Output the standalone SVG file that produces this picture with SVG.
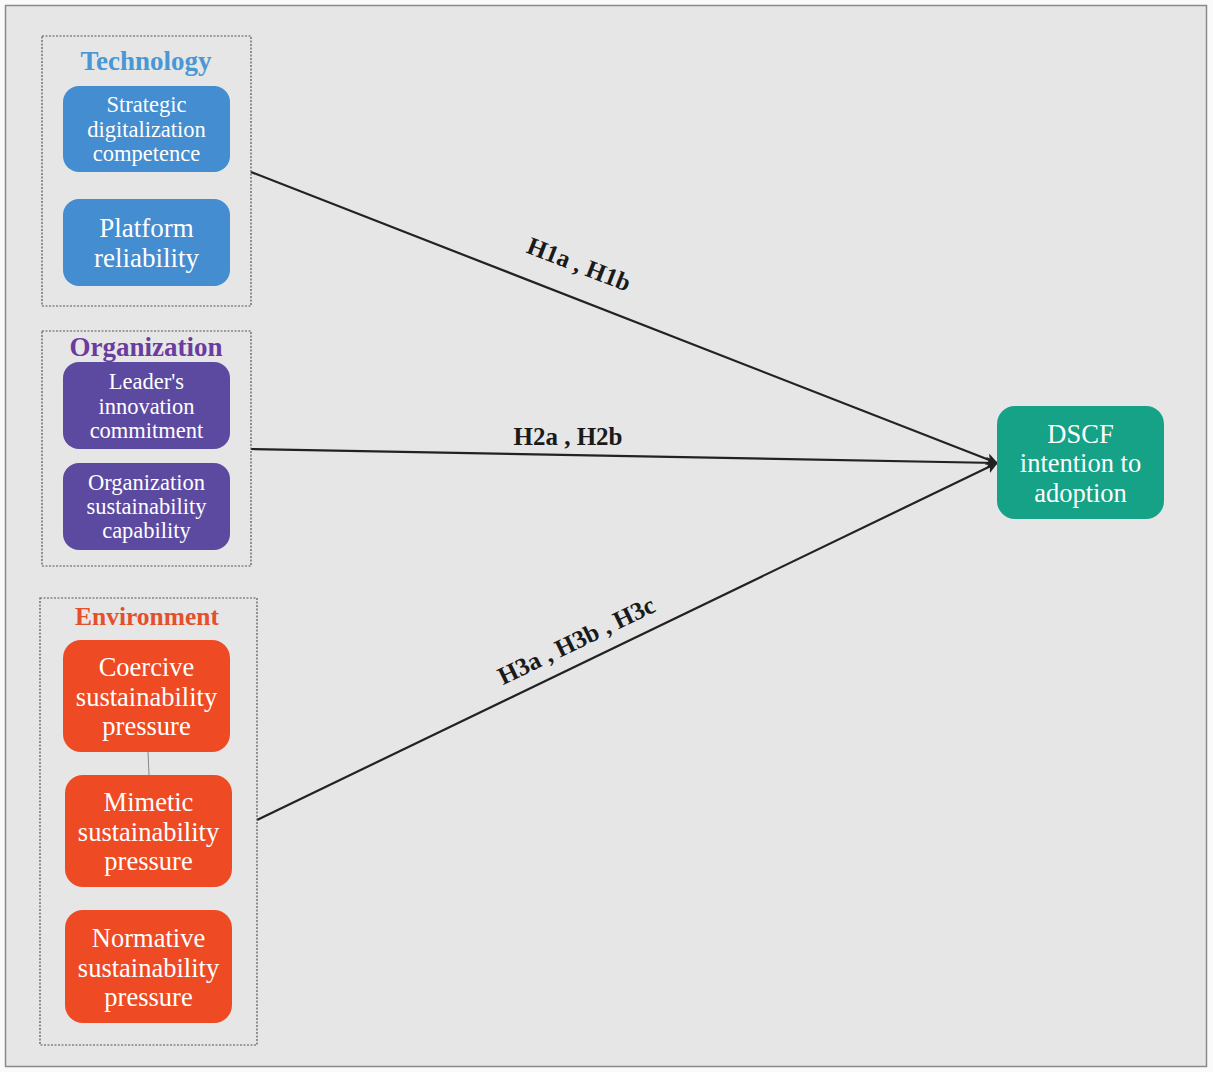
<svg xmlns="http://www.w3.org/2000/svg" width="1213" height="1072" viewBox="0 0 1213 1072">
<defs>
<style>
.grp{fill:none;stroke:#555;stroke-width:1.2;stroke-dasharray:2 1.5}
.n{stroke:none}
.t{font-family:"Liberation Serif","Times New Roman","DejaVu Serif",serif;font-weight:normal;fill:#fff;text-anchor:middle}
.title{font-family:"Liberation Serif","Times New Roman","DejaVu Serif",serif;font-weight:bold;text-anchor:middle}
.lbl{font-family:"Liberation Serif","Times New Roman","DejaVu Serif",serif;font-weight:bold;fill:#1a1a1a;font-size:25px;text-anchor:middle}
.c{stroke:#222;stroke-width:2.2;fill:none}
</style>
<marker id="ah" viewBox="0 0 10 10" refX="9" refY="5" markerWidth="12" markerHeight="12" markerUnits="userSpaceOnUse" orient="auto">
<path d="M0,0 L10,5 L0,10 L2.5,5 z" fill="#222"/>
</marker>
</defs>
<rect x="0" y="0" width="1213" height="1072" fill="#fafafa"/>
<rect x="5.5" y="5.5" width="1201" height="1061" fill="#e6e6e6" stroke="#8a8a8a" stroke-width="1.5"/>

<g id="connectors">
<line class="c" x1="251" y1="172" x2="997" y2="463" marker-end="url(#ah)"/>
<line class="c" x1="251" y1="449" x2="997" y2="463" marker-end="url(#ah)"/>
<line class="c" x1="257" y1="820" x2="997" y2="463" marker-end="url(#ah)"/>
<line x1="148" y1="752" x2="149" y2="775" stroke="#888" stroke-width="1"/>
<text class="lbl" transform="translate(576,272) rotate(21.3)">H1a , H1b</text>
<text class="lbl" x="568" y="445">H2a , H2b</text>
<text class="lbl" transform="translate(580,648) rotate(-25.8)">H3a , H3b , H3c</text>
</g>

<g id="technology">
<rect class="grp" x="42" y="36" width="209" height="270"/>
<text class="title" x="146" y="70" fill="#4a97d6" font-size="27">Technology</text>
</g>
<g id="strategic-digitalization">
<rect class="n" x="63" y="86" width="167" height="86" rx="16" fill="#438dd0"/>
<text class="t" font-size="22.5"><tspan x="146.5" y="112">Strategic</tspan><tspan x="146.5" y="137">digitalization</tspan><tspan x="146.5" y="161">competence</tspan></text>
</g>
<g id="platform-reliability">
<rect class="n" x="63" y="199" width="167" height="87" rx="16" fill="#438dd0"/>
<text class="t" font-size="27"><tspan x="146.5" y="237">Platform</tspan><tspan x="146.5" y="267">reliability</tspan></text>
</g>

<g id="organization">
<rect class="grp" x="42" y="331" width="209" height="235"/>
<text class="title" x="146" y="356" fill="#6a3c9f" font-size="27">Organization</text>
</g>
<g id="leader-commitment">
<rect class="n" x="63" y="362" width="167" height="87" rx="16" fill="#5c4aa1"/>
<text class="t" font-size="22.5"><tspan x="146.5" y="389">Leader's</tspan><tspan x="146.5" y="414">innovation</tspan><tspan x="146.5" y="438">commitment</tspan></text>
</g>
<g id="org-sustainability">
<rect class="n" x="63" y="463" width="167" height="87" rx="16" fill="#5c4aa1"/>
<text class="t" font-size="22.5"><tspan x="146.5" y="490">Organization</tspan><tspan x="146.5" y="514">sustainability</tspan><tspan x="146.5" y="538">capability</tspan></text>
</g>

<g id="environment">
<rect class="grp" x="40" y="598" width="217" height="447"/>
<text class="title" x="147" y="625" fill="#e4502c" font-size="25.5">Environment</text>
</g>
<g id="coercive">
<rect class="n" x="63" y="640" width="167" height="112" rx="18" fill="#ee4a24"/>
<text class="t" font-size="26.5"><tspan x="146.5" y="676">Coercive</tspan><tspan x="146.5" y="706">sustainability</tspan><tspan x="146.5" y="735">pressure</tspan></text>
</g>
<g id="mimetic">
<rect class="n" x="65" y="775" width="167" height="112" rx="18" fill="#ee4a24"/>
<text class="t" font-size="26.5"><tspan x="148.5" y="811">Mimetic</tspan><tspan x="148.5" y="841">sustainability</tspan><tspan x="148.5" y="870">pressure</tspan></text>
</g>
<g id="normative">
<rect class="n" x="65" y="910" width="167" height="113" rx="18" fill="#ee4a24"/>
<text class="t" font-size="26.5"><tspan x="148.5" y="947">Normative</tspan><tspan x="148.5" y="977">sustainability</tspan><tspan x="148.5" y="1006">pressure</tspan></text>
</g>

<g id="dscf">
<rect class="n" x="997" y="406" width="167" height="113" rx="18" fill="#16a286"/>
<text class="t" font-size="26.5"><tspan x="1080.5" y="443">DSCF</tspan><tspan x="1080.5" y="472">intention to</tspan><tspan x="1080.5" y="502">adoption</tspan></text>
</g>
</svg>
